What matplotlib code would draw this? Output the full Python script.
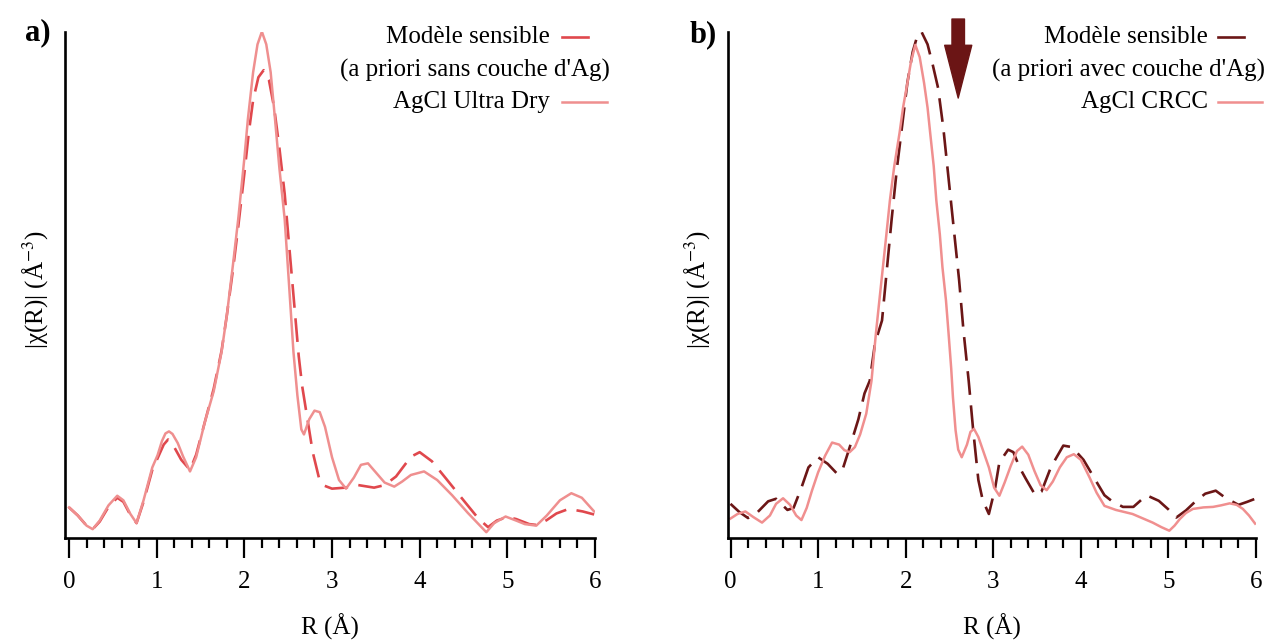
import numpy as np
import matplotlib
matplotlib.use('Agg')
import matplotlib.pyplot as plt
from matplotlib.lines import Line2D
from matplotlib.ticker import MultipleLocator

# panel a) : AgCl Ultra Dry (solid) and model without Ag layer (dashed)
R_a_exp = [0.00, 0.10, 0.20, 0.27, 0.35, 0.45, 0.55, 0.62, 0.70, 0.77, 0.85, 0.95, 1.01, 1.06, 1.10, 1.14,
           1.18, 1.24, 1.30, 1.38, 1.45, 1.55, 1.65, 1.74, 1.80, 1.87, 1.93, 2.00, 2.04, 2.10, 2.15, 2.20,
           2.25, 2.30, 2.35, 2.40, 2.46, 2.51, 2.56, 2.605, 2.65, 2.68, 2.74, 2.80, 2.86, 2.92, 3.00,
           3.08, 3.16, 3.25, 3.33, 3.41, 3.50, 3.60, 3.71, 3.80, 3.90, 4.05, 4.20, 4.37, 4.55, 4.76,
           4.85, 4.98, 5.10, 5.20, 5.33, 5.45, 5.60, 5.73, 5.85, 5.99]
chi_a_exp = [0.061, 0.045, 0.025, 0.018, 0.035, 0.065, 0.084, 0.075, 0.048, 0.030, 0.075, 0.140, 0.164, 0.192, 0.207, 0.211,
             0.206, 0.188, 0.162, 0.132, 0.160, 0.230, 0.290, 0.368, 0.440, 0.540, 0.630, 0.750, 0.827, 0.920, 0.975, 1.000,
             0.975, 0.920, 0.827, 0.730, 0.630, 0.500, 0.368, 0.282, 0.215, 0.205, 0.235, 0.252, 0.249, 0.220, 0.160,
             0.115, 0.098, 0.120, 0.145, 0.148, 0.130, 0.110, 0.102, 0.112, 0.125, 0.132, 0.115, 0.085, 0.050, 0.012,
             0.030, 0.043, 0.035, 0.028, 0.025, 0.045, 0.075, 0.089, 0.080, 0.053]

R_a_mod = [0.00, 0.10, 0.20, 0.27, 0.35, 0.45, 0.55, 0.62, 0.70, 0.77, 0.85, 0.95, 1.01, 1.08, 1.13,
           1.20, 1.28, 1.38, 1.45, 1.55, 1.65, 1.74, 1.80, 1.87, 1.93, 2.00, 2.05, 2.10, 2.16, 2.22,
           2.28, 2.34, 2.40, 2.46, 2.52, 2.58, 2.62, 2.66, 2.72, 2.78, 2.85, 2.91, 3.00, 3.15, 3.30,
           3.48, 3.60, 3.73, 3.90, 4.00, 4.14, 4.30, 4.50, 4.67, 4.78, 4.88, 5.00, 5.10, 5.25, 5.35,
           5.45, 5.56, 5.70, 5.86, 5.99]
chi_a_mod = [0.061, 0.045, 0.025, 0.018, 0.033, 0.062, 0.080, 0.072, 0.046, 0.030, 0.072, 0.135, 0.158, 0.185, 0.195,
             0.180, 0.155, 0.135, 0.165, 0.230, 0.295, 0.370, 0.440, 0.530, 0.615, 0.720, 0.800, 0.865, 0.910, 0.924,
             0.905, 0.850, 0.770, 0.680, 0.560, 0.440, 0.360, 0.300, 0.235, 0.170, 0.120, 0.104, 0.098, 0.100, 0.105,
             0.100, 0.105, 0.122, 0.161, 0.170, 0.152, 0.118, 0.075, 0.039, 0.022, 0.035, 0.042, 0.038, 0.028, 0.026,
             0.036, 0.049, 0.058, 0.053, 0.047]

# panel b) : AgCl CRCC (solid) and model with Ag layer (dashed)
R_b_exp = [0.00, 0.08, 0.17, 0.26, 0.36, 0.45, 0.52, 0.60, 0.68, 0.75, 0.81, 0.87, 0.93, 1.00, 1.08,
           1.16, 1.24, 1.30, 1.36, 1.42, 1.48, 1.55, 1.61, 1.66, 1.70, 1.74, 1.78, 1.82, 1.87, 1.93,
           1.97, 2.02, 2.06, 2.11, 2.16, 2.21, 2.25, 2.28, 2.32, 2.35, 2.39, 2.42, 2.46, 2.49, 2.52,
           2.54, 2.57, 2.60, 2.64, 2.70, 2.74, 2.78, 2.83, 2.90, 2.95, 3.01, 3.07, 3.13, 3.20, 3.27,
           3.33, 3.40, 3.47, 3.54, 3.61, 3.68, 3.76, 3.84, 3.92, 4.00, 4.10, 4.18, 4.27, 4.40, 4.59,
           4.82, 4.92, 5.01, 5.07, 5.13, 5.20, 5.28, 5.40, 5.51, 5.60, 5.70, 5.78, 5.85, 5.92, 5.99]
chi_b_exp = [0.039, 0.048, 0.053, 0.042, 0.031, 0.045, 0.068, 0.079, 0.066, 0.045, 0.036, 0.060, 0.094, 0.130, 0.163,
             0.189, 0.185, 0.174, 0.170, 0.180, 0.205, 0.246, 0.311, 0.404, 0.470, 0.535, 0.600, 0.667, 0.735, 0.800,
             0.850, 0.899, 0.940, 0.974, 0.950, 0.899, 0.850, 0.800, 0.735, 0.667, 0.600, 0.535, 0.470, 0.404, 0.335,
             0.278, 0.213, 0.175, 0.160, 0.185, 0.210, 0.216, 0.200, 0.165, 0.140, 0.100, 0.084, 0.110, 0.143, 0.172,
             0.181, 0.165, 0.133, 0.105, 0.095, 0.112, 0.140, 0.160, 0.166, 0.155, 0.120, 0.090, 0.064, 0.056, 0.048,
             0.031, 0.022, 0.015, 0.025, 0.038, 0.050, 0.058, 0.061, 0.062, 0.065, 0.069, 0.066, 0.058, 0.045, 0.029]

R_b_mod = [0.00, 0.10, 0.20, 0.30, 0.43, 0.52, 0.65, 0.72, 0.81, 0.89, 1.00, 1.11, 1.22, 1.28, 1.38,
           1.46, 1.53, 1.59, 1.65, 1.73, 1.84, 1.90, 2.02, 2.08, 2.13, 2.18, 2.25, 2.31, 2.37, 2.43,
           2.49, 2.55, 2.61, 2.66, 2.72, 2.77, 2.83, 2.88, 2.95, 3.02, 3.07, 3.17, 3.23, 3.30, 3.37,
           3.48, 3.55, 3.66, 3.80, 3.90, 4.03, 4.17, 4.27, 4.35, 4.48, 4.60, 4.75, 4.89, 5.00, 5.09,
           5.20, 5.31, 5.42, 5.54, 5.65, 5.80, 5.90, 5.99]
chi_b_mod = [0.068, 0.052, 0.040, 0.050, 0.073, 0.078, 0.056, 0.060, 0.100, 0.140, 0.160, 0.147, 0.127, 0.136, 0.190,
             0.235, 0.286, 0.311, 0.385, 0.430, 0.630, 0.730, 0.900, 0.960, 0.990, 1.000, 0.975, 0.934, 0.889, 0.810,
             0.710, 0.610, 0.510, 0.410, 0.310, 0.215, 0.115, 0.075, 0.048, 0.098, 0.150, 0.175, 0.170, 0.140, 0.118,
             0.085, 0.092, 0.141, 0.183, 0.180, 0.155, 0.114, 0.085, 0.074, 0.062, 0.062, 0.085, 0.074, 0.057, 0.041,
             0.055, 0.073, 0.088, 0.094, 0.080, 0.066, 0.072, 0.078]

c_a_mod = '#e0484d'
c_a_exp = '#ef8f8f'
c_b_mod = '#6b1616'
c_b_exp = '#f08f8f'
dash = (0, (9, 4))

plt.rcParams['font.family'] = 'Liberation Serif'
plt.rcParams['mathtext.fontset'] = 'stix'

W, H = 1267, 640
fig = plt.figure(figsize=(W / 100, H / 100), dpi=100)

def px(x, y):
    return x / W, 1 - y / H

def style_axes(ax, x0):
    ax.set_xlim(x0, 6)
    ax.set_ylim(0, 1.0)
    for s in ['top', 'right']:
        ax.spines[s].set_visible(False)
    ax.spines['left'].set_linewidth(1.9)
    ax.spines['bottom'].set_linewidth(1.9)
    ax.set_yticks([])
    ax.xaxis.set_major_locator(MultipleLocator(1))
    ax.xaxis.set_minor_locator(MultipleLocator(0.2))
    ax.tick_params(axis='x', which='major', length=14.5, width=1.6, labelsize=18, pad=9)
    ax.tick_params(axis='x', which='minor', length=7.2, width=1.6)
    ax.set_xlabel('R (Å)', fontsize=18)
    ax.xaxis.set_label_coords(0.5, -0.148)
    ax.set_ylabel('|χ(R)| (Å$^{-3}$)', fontsize=18)

bottom = 1 - 538.3 / H
height = (538.3 - 31.7) / H

axa = fig.add_axes([65 / W, bottom, 530 / W, height])
axa.plot(R_a_mod, chi_a_mod, color=c_a_mod, lw=1.9, ls=dash)
axa.plot(R_a_exp, chi_a_exp, color=c_a_exp, lw=1.8)
style_axes(axa, -0.046)
axa.yaxis.set_label_coords(-0.028, 0.49)

axb = fig.add_axes([727.7 / W, bottom, 528.3 / W, height])
axb.plot(R_b_mod, chi_b_mod, color=c_b_mod, lw=1.9, ls=dash)
axb.plot(R_b_exp, chi_b_exp, color=c_b_exp, lw=1.8)
style_axes(axb, -0.032)
axb.yaxis.set_label_coords(-0.03, 0.49)

# arrow pointing at the shifted peak
axb.annotate('', xy=(2.60, 0.869), xytext=(2.60, 1.025),
             arrowprops=dict(arrowstyle='simple,head_length=38,head_width=19.5,tail_width=9',
                             color='#6b1515', mutation_scale=1, shrinkA=0, shrinkB=0),
             annotation_clip=False)

# panel labels
fig.text(*px(38, 33), 'a)', fontsize=22, fontweight='bold', ha='center', va='center')
fig.text(*px(703, 35), 'b)', fontsize=22, fontweight='bold', ha='center', va='center')

# legends drawn by hand (right aligned text, handle on the right)
def legend(xr, xr2, xh, lines_txt, c_mod, c_exp, hl_mod, hl_exp):
    fig.text(*px(xr, 37), lines_txt[0], fontsize=18, ha='right', va='center')
    fig.text(*px(xr2, 70), lines_txt[1], fontsize=18, ha='right', va='center')
    fig.text(*px(xr, 102), lines_txt[2], fontsize=18, ha='right', va='center')
    x1, y1 = px(xh, 37)
    x2, _ = px(xh + hl_mod, 37)
    fig.add_artist(Line2D([x1, x2], [y1, y1], color=c_mod, lw=1.9, transform=fig.transFigure))
    x1, y3 = px(xh, 102)
    x2, _ = px(xh + hl_exp, 102)
    fig.add_artist(Line2D([x1, x2], [y3, y3], color=c_exp, lw=1.8, transform=fig.transFigure))

legend(550, 610, 562, ['Modèle sensible', "(a priori sans couche d'Ag)", 'AgCl Ultra Dry'],
       c_a_mod, c_a_exp, 26, 45)
legend(1208, 1265, 1218, ['Modèle sensible', "(a priori avec couche d'Ag)", 'AgCl CRCC'],
       c_b_mod, c_b_exp, 26, 44)

plt.savefig('out.png', dpi=100)
